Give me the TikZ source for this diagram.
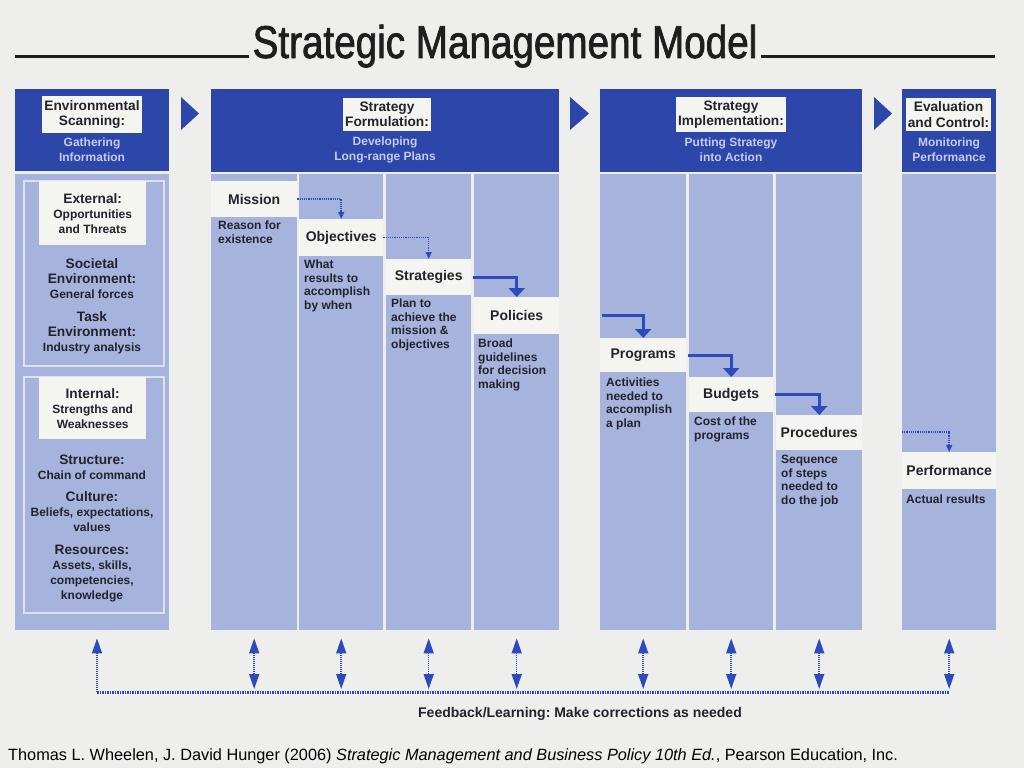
\documentclass[tikz,border=0pt]{standalone}
\usepackage{fontspec}
\setmainfont{Liberation Sans}
\newfontfamily\titlefont[FakeStretch=0.84,FakeBold=1.6]{Liberation Sans}
\frenchspacing
\usetikzlibrary{arrows.meta}
\definecolor{paper}{HTML}{EEEEEC}
\definecolor{dkblue}{HTML}{2C47A9}
\definecolor{ltblue}{HTML}{A5B3DD}
\definecolor{wband}{HTML}{F4F4F1}
\definecolor{ink}{HTML}{22232B}
\definecolor{subblue}{HTML}{C3CCF0}
\definecolor{rimblue}{HTML}{DDE2F2}
\definecolor{arrblue}{HTML}{2D4BBE}
\definecolor{titleink}{HTML}{1E1E1E}
\newcommand\hdfont{\fontsize{13.7}{15.5}\selectfont\bfseries}
\newcommand\subfont{\fontsize{12}{15}\selectfont\bfseries}
\newcommand\descfont{\fontsize{12}{13.5}\selectfont\bfseries}
\newcommand\bandfont{\fontsize{14}{16}\selectfont\bfseries}
\newcommand\fbfont{\fontsize{14}{16}\selectfont\bfseries}
\begin{document}
\begin{tikzpicture}[x=1pt,y=-1pt,
  hdr/.style={fill=dkblue,inner sep=0pt,anchor=north west},
  col/.style={fill=ltblue,inner sep=0pt,anchor=north west},
  band/.style={fill=wband,inner sep=0pt,anchor=north west,text=ink,font=\bandfont},
  ttl/.style={fill=wband,inner xsep=2pt,inner ysep=4pt,align=center,text=ink,font=\hdfont},
  sub/.style={align=center,text=subblue,font=\subfont,inner sep=0pt},
  desc/.style={anchor=north west,inner sep=0pt,align=left,text=ink,font=\descfont},
  envtext/.style={align=center,text=ink,inner sep=0pt,font=\subfont},
  envttl/.style={fill=wband,inner sep=0pt,anchor=north west,minimum width=107pt,align=center,text=ink,font=\subfont},
  rim/.style={draw=rimblue,line width=1.5pt,inner sep=0pt,anchor=north west},
  solidarr/.style={draw=arrblue,line width=3pt,shorten <=2pt,-{Triangle[width=16pt,length=9pt]}},
  dotarr/.style={draw=arrblue,line width=1.5pt,dash pattern=on 1.2pt off 1pt,-{Triangle[width=6pt,length=7pt]}},
  fbarr/.style={draw=arrblue,line width=1.5pt,dash pattern=on 1pt off 1pt,shorten <=3pt,shorten >=8pt,{Triangle[width=10pt,length=15pt]}-{Triangle[width=10pt,length=15pt]}},
  fbup/.style={draw=arrblue,line width=1.5pt,dash pattern=on 1pt off 1pt,shorten >=8pt,-{Triangle[width=10pt,length=15pt]}},
  fbline/.style={draw=arrblue,line width=3pt,dash pattern=on 1.5pt off 1pt}]
  \fill[paper] (0,0) rectangle (1024,768);

  \node[anchor=base,inner sep=0pt,font=\titlefont\fontsize{46}{50}\selectfont,text=titleink] at (505,58) (title) {Strategic Management Model};
  \draw[titleink,line width=3pt,shorten >=3pt] (15,57) -- (title.base west |- 0,57);
  \draw[titleink,line width=3pt,shorten >=3pt] (995,57) -- (title.base east |- 0,57);

  \node[hdr,minimum width=154pt,minimum height=82pt] at (15,89) (envhd) {};
  \node[hdr,minimum width=348pt,minimum height=83pt] at (211,89) (formhd) {};
  \node[hdr,minimum width=262pt,minimum height=83pt] at (600,89) (implhd) {};
  \node[hdr,minimum width=94pt,minimum height=83pt] at (902,89) (evalhd) {};
  \fill[dkblue] (181,97) -- (199,113.5) -- (181,130) -- cycle;
  \fill[dkblue] (570,97) -- (589,113.5) -- (570,130) -- cycle;
  \fill[dkblue] (874,97) -- (892,113.5) -- (874,130) -- cycle;

  \node[ttl] at (92,114.5) (envttl) {Environmental\\Scanning:};
  \node[ttl] at (387,114.5) (formttl) {Strategy\\Formulation:};
  \node[ttl] at (731,114.5) (implttl) {Strategy\\Implementation:};
  \node[ttl] at (948.5,114.5) (evalttl) {Evaluation\\and Control:};
  \node[sub] at (92,150) (envsub) {Gathering\\Information};
  \node[sub] at (385,150) (formsub) {Developing\\Long-range Plans};
  \node[sub] at (731,150) (implsub) {Putting Strategy\\into Action};
  \node[sub] at (949,150) (evalsub) {Monitoring\\Performance};

  \node[col,minimum width=154pt,minimum height=456pt] at (15,174) (envbody) {};
  \node[rim,minimum width=140pt,minimum height=185pt] at (23,180) (extrim) {};
  \node[rim,minimum width=140pt,minimum height=236pt] at (23,376) (intrim) {};
  \node[envttl,minimum height=64pt] at (39,181) (extttl) {\hdfont External:\\Opportunities\\and Threats};
  \node[envtext] at (92,278.5) (societal) {\hdfont Societal\\\hdfont Environment:\\General forces};
  \node[envtext] at (92,332.5) (task) {\hdfont Task\\\hdfont Environment:\\Industry analysis};
  \node[envttl,minimum height=62pt] at (39,377) (intttl) {\hdfont Internal:\\Strengths and\\Weaknesses};
  \node[envtext] at (92,467) (structure) {\hdfont Structure:\\Chain of command};
  \node[envtext] at (92,511.5) (culture) {\hdfont Culture:\\Beliefs, expectations,\\values};
  \node[envtext] at (92,573.5) (resources) {\hdfont Resources:\\Assets, skills,\\competencies,\\knowledge};

  \node[col,minimum width=86pt,minimum height=456pt] at (211,174) (f1) {};
  \node[col,minimum width=84pt,minimum height=456pt] at (299,174) (f2) {};
  \node[col,minimum width=85pt,minimum height=456pt] at (386,174) (f3) {};
  \node[col,minimum width=85pt,minimum height=456pt] at (474,174) (f4) {};
  \node[band,minimum width=86pt,minimum height=36pt] at (211,181) (mission) {Mission};
  \node[band,minimum width=84pt,minimum height=37pt] at (299,219) (objectives) {Objectives};
  \node[band,minimum width=85pt,minimum height=36pt] at (386,259) (strategies) {Strategies};
  \node[band,minimum width=85pt,minimum height=37pt] at (474,297) (policies) {Policies};
  \node[desc] at (218,221) (missiondesc) {Reason for\\existence};
  \node[desc] at (304,260) (objdesc) {What\\results to\\accomplish\\by when};
  \node[desc] at (391,299) (stratdesc) {Plan to\\achieve the\\mission \&\\objectives};
  \node[desc] at (478,339) (poldesc) {Broad\\guidelines\\for decision\\making};

  \node[col,minimum width=86pt,minimum height=456pt] at (600,174) (i1) {};
  \node[col,minimum width=84pt,minimum height=456pt] at (689,174) (i2) {};
  \node[col,minimum width=86pt,minimum height=456pt] at (776,174) (i3) {};
  \node[band,minimum width=86pt,minimum height=34pt] at (600,338) (programs) {Programs};
  \node[band,minimum width=84pt,minimum height=35pt] at (689,377) (budgets) {Budgets};
  \node[band,minimum width=86pt,minimum height=35pt] at (776,415) (procedures) {Procedures};
  \node[desc] at (606,378) (progdesc) {Activities\\needed to\\accomplish\\a plan};
  \node[desc] at (694,417) (budgdesc) {Cost of the\\programs};
  \node[desc] at (781,455) (procdesc) {Sequence\\of steps\\needed to\\do the job};

  \node[col,minimum width=94pt,minimum height=278pt] at (902,174) (evaltop) {};
  \node[band,minimum width=94pt,minimum height=37pt] at (902,452) (performance) {Performance};
  \node[col,minimum width=94pt,minimum height=141pt] at (902,489) (evalbody) {};
  \node[desc] at (906,495) (perfdesc) {Actual results};

  \draw[dotarr] (mission.east) -| (objectives.north);
  \draw[dotarr] (objectives.east) -| (strategies.north);
  \draw[solidarr] (strategies.east) -| (policies.north);
  \coordinate (implin) at (600,315);
  \draw[solidarr] (implin) -| (programs.north);
  \draw[solidarr] (programs.east) -| (budgets.north);
  \draw[solidarr] (budgets.east) -| (procedures.north);
  \coordinate (evalin) at (902,432);
  \draw[dotarr] (evalin) -| (performance.north);

  \coordinate (fb) at (0,692);
  \coordinate (fbstart) at (97,692);
  \draw[fbline] (fbstart) -- (evalbody.south |- fb);
  \draw[fbup] (fbstart) -- (fbstart |- envbody.south);
  \draw[fbarr] (f1.south |- fb) -- (f1.south);
  \draw[fbarr] (f2.south |- fb) -- (f2.south);
  \draw[fbarr] (f3.south |- fb) -- (f3.south);
  \draw[fbarr] (f4.south |- fb) -- (f4.south);
  \draw[fbarr] (i1.south |- fb) -- (i1.south);
  \draw[fbarr] (i2.south |- fb) -- (i2.south);
  \draw[fbarr] (i3.south |- fb) -- (i3.south);
  \draw[fbarr] (evalbody.south |- fb) -- (evalbody.south);
  \node[font=\fbfont,text=ink,inner sep=0pt] at (580,714) (fblabel) {Feedback/Learning: Make corrections as needed};

  \node[anchor=base west,inner sep=0pt,font=\fontsize{16.3}{18}\selectfont,text=black] at (8,760) (credit) {Thomas L. Wheelen, J. David Hunger (2006) \textit{Strategic Management and Business Policy 10th Ed.}, Pearson Education, Inc.};
\end{tikzpicture}
\end{document}
